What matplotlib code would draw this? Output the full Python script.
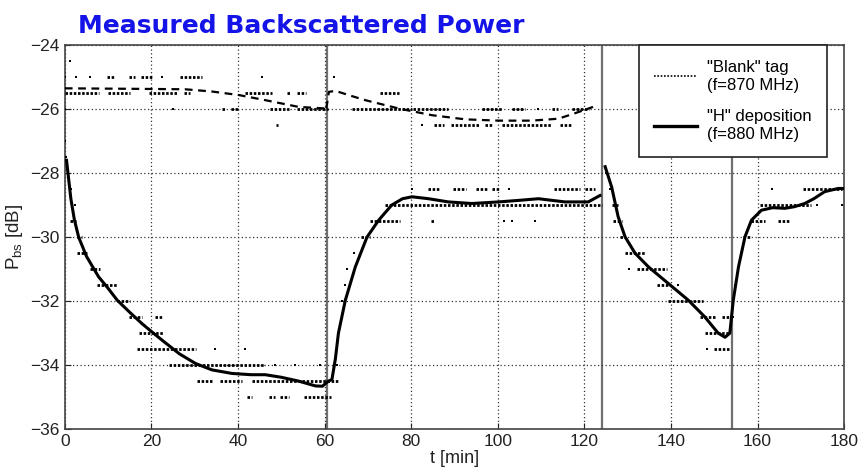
import matplotlib
matplotlib.use('Agg')
import matplotlib.pyplot as plt
from matplotlib.lines import Line2D

# smooth fitted curve, "H" deposition (f=880 MHz)
h_t = [0.4, 0.9, 1.4, 2.2, 3.2, 5.0, 7.8, 10.0, 12.1, 15.0, 17.8, 20.0, 23.2, 26.5, 30.2, 34.0,
       38.6, 43.0, 46.3, 50.0, 54.0, 57.9, 59.5, 60.9, 61.7, 62.5, 63.2, 64.8, 67.1, 69.8,
       72.5, 75.5, 78.0, 80.2, 84.0, 88.6, 94.0, 100.2, 105.0, 109.4, 115.5, 120.9, 123.6]
h_p = [-27.6, -28.2, -28.8, -29.45, -30.0, -30.6, -31.24, -31.6, -31.97, -32.35, -32.7, -32.95,
       -33.3, -33.65, -33.95, -34.15, -34.26, -34.3, -34.3, -34.38, -34.5, -34.65, -34.66,
       -34.5, -34.45, -33.8, -33.0, -31.97, -30.93, -30.0, -29.47, -29.0, -28.8, -28.74,
       -28.8, -28.9, -28.95, -28.9, -28.85, -28.8, -28.9, -28.9, -28.7]
h3_t = [124.8, 126.3, 127.8, 129.4, 131.7, 134.8, 139.4, 144.0, 147.8, 150.9, 152.5, 153.6,
        154.4, 155.6, 157.1, 158.6, 160.9, 163.5, 166.3, 168.5, 170.9, 173.0, 175.5, 178.6, 180.0]
h3_p = [-27.8, -28.43, -29.36, -29.99, -30.5, -30.93, -31.45, -31.97, -32.49, -33.0, -33.13,
        -33.0, -31.97, -30.93, -29.99, -29.47, -29.16, -29.08, -29.1, -29.05, -28.95, -28.8,
        -28.58, -28.48, -28.48]

# smooth fitted curve, "Blank" tag (f=870 MHz)
b1_t = [0.0, 10.0, 20.0, 27.8, 34.0, 40.2, 46.3, 54.0, 60.2]
b1_p = [-25.35, -25.36, -25.37, -25.38, -25.45, -25.56, -25.72, -25.93, -25.98]
b2_t = [60.4, 61.0, 62.5, 66.0, 69.4, 77.1, 84.8, 92.5, 100.2, 107.8, 114.0, 117.8, 121.0, 122.0]
b2_p = [-25.98, -25.46, -25.43, -25.58, -25.72, -25.98, -26.19, -26.32, -26.36, -26.36, -26.3,
        -26.13, -25.98, -25.93]

# raw samples (quantized levels): level, t start, t end
blank_dots = [
    (-24.5, 1.3, 1.3),
    (-25.0, 0.0, 0.0), (-25.0, 2.7, 2.7), (-25.0, 5.9, 5.9), (-25.0, 9.8, 11.7),
    (-25.0, 14.8, 16.3), (-25.0, 17.5, 20.2), (-25.0, 22.5, 22.5), (-25.0, 26.7, 31.7),
    (-25.0, 45.5, 45.5), (-25.0, 62.1, 62.1),
    (-25.5, 0.0, 8.0), (-25.5, 10.0, 15.0), (-25.5, 19.5, 26.0), (-25.5, 27.5, 29.0),
    (-25.5, 41.7, 47.9), (-25.5, 51.3, 52.0), (-25.5, 53.6, 55.8), (-25.5, 72.8, 77.1),
    (-26.0, 0.0, 0.0), (-26.0, 25.0, 25.0), (-26.0, 36.2, 37.0), (-26.0, 38.5, 40.2),
    (-26.0, 47.3, 51.8), (-26.0, 53.6, 60.8), (-26.0, 66.3, 80.1), (-26.0, 80.5, 88.6),
    (-26.0, 96.3, 100.9), (-26.0, 103.2, 106.3), (-26.0, 109.4, 109.4), (-26.0, 112.5, 114.0),
    (-26.0, 117.1, 121.0),
    (-26.5, 48.7, 49.3), (-26.5, 82.5, 82.5), (-26.5, 85.2, 87.5), (-26.5, 89.1, 95.6),
    (-26.5, 97.1, 98.6), (-26.5, 100.9, 112.5), (-26.5, 114.4, 117.1),
]
h_dots = [
    (-27.0, 0.0, 0.0), (-27.5, 0.2, 0.2), (-28.0, 0.8, 1.2), (-28.5, 1.5, 1.5), (-29.0, 2.3, 2.3),
    (-29.5, 1.3, 2.5), (-30.0, 2.9, 4.0), (-30.5, 2.9, 5.2), (-31.0, 5.9, 8.2),
    (-31.5, 7.5, 12.1), (-32.0, 12.1, 15.1), (-32.5, 14.8, 17.9), (-32.5, 20.9, 22.5),
    (-33.0, 17.1, 22.9), (-33.5, 16.7, 30.2), (-33.5, 34.8, 34.8), (-33.5, 41.7, 41.7),
    (-34.0, 24.0, 46.3), (-34.0, 48.6, 48.6), (-34.0, 53.2, 53.2), (-34.0, 59.0, 59.0),
    (-34.0, 62.9, 62.9),
    (-34.5, 30.5, 34.0), (-34.5, 35.9, 41.0), (-34.5, 43.2, 63.2),
    (-35.0, 42.1, 43.2), (-35.0, 47.1, 48.6), (-35.0, 49.8, 51.7), (-35.0, 55.2, 61.5),
    (-33.0, 63.0, 63.0), (-32.0, 64.1, 64.1), (-31.5, 64.8, 64.8), (-31.0, 65.2, 65.2),
    (-30.5, 66.7, 66.7), (-30.0, 68.3, 70.5),
    (-29.5, 70.5, 77.4), (-29.5, 84.5, 85.6), (-29.5, 101.4, 101.4), (-29.5, 103.3, 103.3),
    (-29.5, 108.7, 108.7),
    (-29.0, 74.0, 124.0),
    (-28.5, 80.3, 80.3), (-28.5, 83.8, 86.5), (-28.5, 89.6, 92.7), (-28.5, 95.0, 97.4),
    (-28.5, 98.6, 100.5), (-28.5, 102.5, 102.5), (-28.5, 112.9, 119.0), (-28.5, 120.2, 122.5),
    # after 124 min
    (-28.0, 125.0, 125.0), (-28.5, 125.9, 125.9), (-29.0, 126.3, 127.8), (-29.5, 126.7, 128.6),
    (-30.0, 128.3, 129.4), (-30.5, 129.4, 134.0), (-31.0, 130.2, 130.2), (-31.0, 132.1, 139.0),
    (-31.5, 136.7, 139.8), (-31.5, 141.7, 141.7), (-32.0, 139.4, 147.5),
    (-32.5, 146.7, 150.2), (-32.5, 151.7, 154.0), (-33.0, 147.9, 153.3), (-33.5, 148.3, 148.3),
    (-33.5, 150.0, 153.3),
    (-32.5, 154.4, 154.4), (-31.5, 154.8, 154.8), (-31.0, 155.6, 155.6), (-30.5, 156.1, 156.1),
    (-30.0, 156.7, 158.3), (-29.5, 158.6, 161.7), (-29.5, 164.8, 167.5),
    (-29.0, 160.5, 172.4), (-29.0, 173.7, 173.7), (-29.0, 179.5, 179.5),
    (-28.5, 163.3, 163.3), (-28.5, 170.6, 179.5),
]

event_t = [60.5, 124.0, 154.0]

fig = plt.figure(figsize=(8.64, 4.70), dpi=100)
ax = fig.add_axes([0.075, 0.087, 0.902, 0.817])

for t in event_t:
    ax.axvline(t, color='#707070', lw=1.6, zorder=1)


def draw_dots(runs):
    for lev, t0, t1 in runs:
        if t1 - t0 < 0.4:
            ax.plot([t0], [lev], 's', ms=2.0, color='k', mew=0, zorder=3)
        else:
            ax.plot([t0, t1], [lev, lev], color='k', lw=2.0,
                    linestyle=(0, (0.9, 0.6)), dash_capstyle='butt', zorder=3)


draw_dots(blank_dots)
draw_dots(h_dots)

ax.plot(b1_t, b1_p, color='k', lw=1.6, linestyle=(0, (3.5, 2.5)), zorder=4)
ax.plot(b2_t, b2_p, color='k', lw=1.6, linestyle=(0, (3.5, 2.5)), zorder=4)
ax.plot(h_t, h_p, color='k', lw=2.2, zorder=5)
ax.plot(h3_t, h3_p, color='k', lw=2.2, zorder=5)

ax.set_xlim(0, 180)
ax.set_ylim(-36, -24)
ax.set_xticks(range(0, 181, 20))
ax.set_yticks(range(-36, -23, 2))
ax.grid(True, color='#333333', linestyle=(0, (1, 2)), lw=0.9)
ax.tick_params(direction='in', length=4, labelsize=12.5, colors='#222222')
for lab in ax.get_xticklabels() + ax.get_yticklabels():
    lab.set_family('Liberation Sans')
for s in ax.spines.values():
    s.set_color('#444444')
    s.set_linewidth(1.2)

ax.set_xlabel('t [min]', fontsize=13, family='Liberation Sans', labelpad=1, color='#222222')
ax.set_ylabel(r'P$_{\mathregular{bs}}$ [dB]', fontsize=13.5, family='Liberation Sans',
              labelpad=4, color='#222222')

handles = [Line2D([], [], color='k', lw=1.2, linestyle=(0, (1, 1))),
           Line2D([], [], color='k', lw=2.4)]
leg = ax.legend(handles, ['"Blank" tag\n(f=870 MHz)', '"H" deposition\n(f=880 MHz)'],
                loc='upper right', bbox_to_anchor=(0.978, 1.0), borderaxespad=0,
                fancybox=False, framealpha=1, edgecolor='#222222',
                prop={'family': 'Liberation Sans', 'size': 12},
                handlelength=2.6, labelspacing=1.0, borderpad=0.9, handletextpad=0.6)
leg.get_frame().set_linewidth(1.2)
leg.set_zorder(10)

fig.text(0.09, 0.945, 'Measured Backscattered Power', fontsize=18, weight='bold',
         color='#1414e8', va='center', ha='left')

fig.savefig('out.png', dpi=100)
